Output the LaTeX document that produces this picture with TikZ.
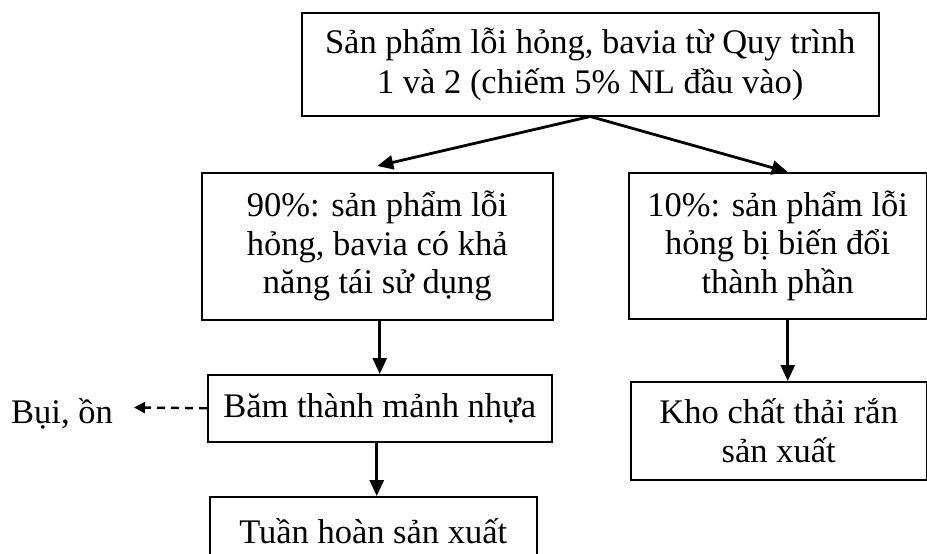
\documentclass[tikz,border=0pt]{standalone}
\usepackage{fontspec}
\setmainfont{Liberation Serif}
\usetikzlibrary{arrows.meta,calc}
\begin{document}
\begin{tikzpicture}[x=1pt,y=-1pt,
  box/.style={draw, line width=1.5pt, inner sep=0pt, align=center, anchor=north west,
    font=\fontsize{34.5}{38.5}\selectfont},
  flow/.style={line width=2.8pt, -{Triangle[length=16pt,width=14pt]}},
  side/.style={line width=2.4pt, dash pattern=on 8pt off 6pt, -{Triangle[length=11pt,width=11pt]}}]
\useasboundingbox (0,0) rectangle (927,554);
\clip (0,0) rectangle (927,554);

% process boxes
\node[box, minimum width=577pt, minimum height=103pt, font=\fontsize{34.5}{40}\selectfont] (src) at (301,12)
  {Sản phẩm lỗi hỏng, bavia từ Quy trình\\1 và 2 (chiếm 5\% NL đầu vào)};
\node[box, minimum width=351pt, minimum height=147pt] (reuse) at (201,172)
  {90\%: sản phẩm lỗi\\hỏng, bavia có khả\\năng tái sử dụng};
\node[box, minimum width=298pt, minimum height=146pt] (waste) at (628,172)
  {10\%: sản phẩm lỗi\\hỏng bị biến đổi\\thành phần};
\node[box, minimum width=344pt, minimum height=67pt] (shred) at (207,374)
  {Băm thành mảnh nhựa};
\node[box, minimum width=296pt, minimum height=98pt] (store) at (630,381)
  {Kho chất thải rắn\\sản xuất};
\node[box, minimum width=327pt, minimum height=68pt] (recycle) at (209,496)
  {Tuần hoàn sản xuất};
\node[anchor=base, inner sep=0pt, font=\fontsize{34.5}{38.5}\selectfont] (noise) at (62,423) {Bụi, ồn};

% connectors
\coordinate (noiseTip) at (134,407.5);
\path ([xshift=10pt]waste.north) coordinate (wIn)
      ([xshift=10pt]waste.south) coordinate (wOut)
      ([xshift=-3pt]shred.south) coordinate (sOut);

\draw[flow] (src.south) -- ([yshift=6pt]reuse.north);
\draw[flow] (src.south) -- (wIn);
\draw[flow] (reuse.south -| shred.north) -- (shred.north);
\draw[flow] (sOut) -- (sOut |- recycle.north);
\draw[flow] (wOut) -- (wOut |- store.north);
\draw[side] (shred.west) -- (noiseTip);
\end{tikzpicture}
\end{document}
